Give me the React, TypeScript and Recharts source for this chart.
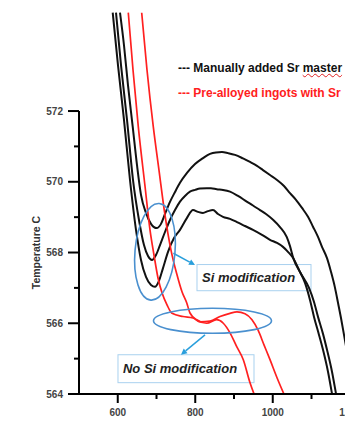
import React from 'react';
import {
  LineChart,
  Line,
  XAxis,
  YAxis,
  ReferenceLine,
  ReferenceDot,
  ReferenceArea,
  Legend,
} from 'recharts';

// ---------- data (time-like x, temperature °C) ----------
const seriesNames = ['Manually added Sr master alloy', 'Pre-alloyed ingots with Sr'];
const seriesColors = ['#111111', '#ff2020'];

const blackUpper: [number, number][] = [
  [605.8, 574.78], [616.1, 573.86], [626.4, 572.73], [638.6, 571.56], [649.7, 570.47],
  [660.0, 569.63], [672.9, 569.12], [685.8, 568.81], [700.5, 568.69], [711.6, 568.81],
  [721.9, 569.09], [734.8, 569.43], [747.7, 569.71], [760.6, 569.97], [778.7, 570.25],
  [799.4, 570.5], [820.0, 570.67], [838.1, 570.79], [853.5, 570.83], [869.0, 570.84],
  [884.5, 570.81], [902.6, 570.76], [923.2, 570.66], [941.3, 570.56], [959.3, 570.45],
  [974.8, 570.33], [992.9, 570.19], [1011.0, 570.05], [1029.0, 569.88], [1044.5, 569.68],
  [1060.0, 569.49], [1075.5, 569.26], [1091.0, 569.01], [1103.9, 568.73], [1116.8, 568.44],
  [1127.1, 568.16], [1140.0, 567.84], [1150.4, 567.45], [1160.7, 567.0], [1168.4, 566.58],
  [1176.1, 566.15], [1183.9, 565.67], [1191.6, 565.19], [1199.3, 564.63], [1207.1, 564.01],
];

const blackMiddle: [number, number][] = [
  [595.5, 574.78], [608.4, 573.3], [623.9, 571.75], [639.4, 570.05], [654.8, 568.92],
  [667.7, 568.21], [678.1, 567.9], [688.4, 567.79], [698.7, 567.93], [709.0, 568.21],
  [721.9, 568.58], [734.8, 568.92], [747.7, 569.2], [760.6, 569.44], [773.5, 569.6],
  [786.4, 569.72], [799.4, 569.77], [812.2, 569.81], [829.5, 569.82], [840.6, 569.82],
  [855.4, 569.79], [871.6, 569.77], [889.7, 569.72], [910.3, 569.6], [932.8, 569.44],
  [949.0, 569.33], [967.1, 569.2], [982.6, 569.09], [1001.4, 568.92], [1018.7, 568.72],
  [1036.0, 568.44], [1044.5, 568.18], [1053.0, 567.84], [1070.3, 567.45], [1093.6, 567.0],
  [1106.5, 566.6], [1116.8, 566.18], [1129.7, 565.7], [1140.0, 565.25], [1152.9, 564.63],
  [1163.2, 564.01], [1168.4, 563.69],
];

const blackLower: [number, number][] = [
  [587.0, 574.78], [600.6, 573.3], [616.1, 571.75], [631.6, 570.05], [647.1, 568.64],
  [660.0, 567.79], [672.9, 567.31], [685.8, 567.08], [696.1, 567.03], [706.4, 567.2],
  [716.8, 567.56], [729.7, 568.02], [745.2, 568.41], [760.6, 568.64], [778.7, 568.98],
  [794.2, 569.2], [807.1, 569.15], [820.0, 569.12], [832.9, 569.17], [845.8, 569.2],
  [858.7, 569.09], [871.6, 569.01], [889.7, 568.95], [907.7, 568.86], [928.4, 568.75],
  [949.0, 568.64], [972.2, 568.5], [992.9, 568.36], [1011.0, 568.27], [1026.4, 568.16],
  [1039.3, 568.02], [1052.2, 567.85], [1067.7, 567.51], [1083.2, 567.14], [1096.1, 566.66],
  [1106.5, 566.18], [1119.4, 565.67], [1129.7, 565.25], [1142.6, 564.63], [1152.9, 564.01],
  [1158.1, 563.69],
];

const redLeft: [number, number][] = [
  [627.2, 574.78], [639.4, 573.16], [653.0, 571.56], [670.3, 569.88], [683.2, 568.64],
  [693.5, 567.93], [703.9, 567.28], [714.2, 566.86], [727.1, 566.52], [740.0, 566.28],
  [768.4, 566.19], [794.2, 566.15], [812.2, 566.04], [838.1, 566.06], [863.9, 566.19],
  [889.7, 566.28], [907.7, 566.32], [928.4, 566.27], [946.4, 566.1], [961.9, 565.81],
  [977.4, 565.39], [992.9, 564.97], [1011.0, 564.46], [1031.6, 563.93],
];

const redRight: [number, number][] = [
  [661.8, 574.78], [675.5, 573.16], [691.7, 571.56], [706.4, 570.33], [721.9, 569.06],
  [737.4, 568.07], [752.9, 567.37], [765.8, 566.89], [777.9, 566.58], [786.4, 566.29],
  [803.7, 566.1], [829.5, 566.0], [855.4, 566.1], [872.4, 566.0], [889.7, 565.73],
  [907.0, 565.34], [924.0, 564.97], [941.3, 564.32], [954.2, 563.93],
];

const xTicks = [600, 700, 800, 900, 1000, 1100, 1200];
const xMajor = [600, 800, 1000, 1200];
const yTicks = [564, 565, 566, 567, 568, 569, 570, 571, 572];
const yMajor = [564, 566, 568, 570, 572];
const yAxisTitle = 'Temperature C';

// annotations (data coordinates)
const siEllipse = { x: 696.1, y: 568.02 };
const noSiEllipse = { x: 844.5, y: 566.07 };
const siBox = { x1: 804.5, x2: 1098.7, y1: 567.66, y2: 566.92, text: 'Si modification' };
const noSiBox = { x1: 600.6, x2: 951.6, y1: 565.11, y2: 564.32, text: 'No Si modification' };
const siArrow = [{ x: 743.4, y: 567.98 }, { x: 799.4, y: 567.65 }];
const noSiArrow = [{ x: 825.2, y: 565.67 }, { x: 763.2, y: 565.11 }];

const toPts = (arr: [number, number][]) => arr.map(([t, T]) => ({ t, T }));

const FONT = 'Arial, "Liberation Sans", sans-serif';

const XTick = (props: any) => {
  const { x, y, payload } = props;
  const major = xMajor.includes(payload.value);
  return (
    <g>
      <line x1={x} x2={x} y1={y} y2={y + (major ? 9 : 5)} stroke="#000" strokeWidth={2} />
      {major && (
        <text x={x} y={y + 22} textAnchor="middle" fontSize={10} fontWeight="bold" fill="#444" fontFamily={FONT}>
          {payload.value}
        </text>
      )}
    </g>
  );
};

const YTick = (props: any) => {
  const { x, y, payload } = props;
  const major = yMajor.includes(payload.value);
  return (
    <g>
      <line x1={x - (major ? 11 : 5)} x2={x} y1={y} y2={y} stroke="#000" strokeWidth={2} />
      {major && (
        <text x={x - 16} y={y + 3.5} textAnchor="end" fontSize={10} fontWeight="bold" fill="#444" fontFamily={FONT}>
          {payload.value}
        </text>
      )}
    </g>
  );
};

const AxisTitle = (props: any) => {
  const vb = props.viewBox || { x: 0, y: 12, width: 79, height: 382 };
  const cx = vb.x + 36.5;
  const cy = vb.y + 240.6;
  return (
    <text
      x={cx}
      y={cy}
      transform={`rotate(-90 ${cx} ${cy})`}
      textAnchor="middle"
      dominantBaseline="central"
      fontSize={10.5}
      fontWeight="bold"
      fill="#333"
      fontFamily={FONT}
    >
      {yAxisTitle}
    </text>
  );
};

const ellipseShape = (rx: number, ry: number, rot: number) => (p: any) => (
  <ellipse
    cx={p.cx}
    cy={p.cy}
    rx={rx}
    ry={ry}
    transform={`rotate(${rot} ${p.cx} ${p.cy})`}
    fill="none"
    stroke="#4a90cf"
    strokeWidth={1.6}
  />
);

const boxShape = (text: string) => (p: any) => (
  <g>
    <rect x={p.x} y={p.y} width={p.width} height={p.height} fill="none" stroke="#a9d1ef" strokeWidth={1} />
    <text
      x={p.x + 5}
      y={p.y + p.height / 2}
      dominantBaseline="central"
      fontSize={13}
      fontWeight="bold"
      fontStyle="italic"
      fill="#222"
      fontFamily={FONT}
    >
      {text}
    </text>
  </g>
);

const arrowShape = (p: any) => {
  const { x1, y1, x2, y2 } = p;
  const a = Math.atan2(y2 - y1, x2 - x1);
  const L = 6;
  const W = 3;
  const bx = x2 - L * Math.cos(a);
  const by = y2 - L * Math.sin(a);
  const pts = `${x2},${y2} ${bx + W * Math.sin(a)},${by - W * Math.cos(a)} ${bx - W * Math.sin(a)},${by + W * Math.cos(a)}`;
  return (
    <g>
      <line x1={x1} y1={y1} x2={bx} y2={by} stroke="#2a9fdc" strokeWidth={1.5} />
      <polygon points={pts} fill="#2a9fdc" />
    </g>
  );
};

const LegendContent = () => (
  <div style={{ fontFamily: FONT, fontSize: 12, fontWeight: 'bold', lineHeight: '25px', whiteSpace: 'nowrap' }}>
    <div style={{ color: seriesColors[0] }}>
      {'--- Manually added Sr '}
      <span style={{ textDecoration: 'underline wavy #e02020', textDecorationThickness: '1px' }}>master</span>
      {' alloy'}
    </div>
    <div style={{ color: seriesColors[1] }}>{'--- ' + seriesNames[1].replace('Pre-alloyed', 'Pre-alloyed')}</div>
  </div>
);

export default function App() {
  const lineSeries = [
    { key: 'b1', data: blackUpper, color: seriesColors[0], w: 2 },
    { key: 'b2', data: blackMiddle, color: seriesColors[0], w: 2 },
    { key: 'b3', data: blackLower, color: seriesColors[0], w: 2 },
    { key: 'r1', data: redLeft, color: seriesColors[1], w: 1.7 },
    { key: 'r2', data: redRight, color: seriesColors[1], w: 1.7 },
  ];
  return (
    <div
      style={{
        position: 'absolute',
        left: 0,
        top: 0,
        width: 345,
        height: 421,
        overflow: 'hidden',
        background: '#fff',
        fontFamily: FONT,
      }}
    >
      <LineChart width={400} height={421} margin={{ top: 12, right: 11, bottom: 0, left: 0 }}>
        <XAxis
          dataKey="t"
          type="number"
          domain={[500, 1300]}
          ticks={xTicks}
          interval={0}
          allowDataOverflow
          height={27}
          tickSize={0}
          tickMargin={0}
          tickLine={false}
          axisLine={{ stroke: '#000', strokeWidth: 2 }}
          tick={<XTick />}
        />
        <YAxis
          type="number"
          domain={[564, 574.8]}
          ticks={yTicks}
          interval={0}
          allowDataOverflow
          width={79}
          tickSize={0}
          tickMargin={0}
          tickLine={false}
          axisLine={false}
          tick={<YTick />}
          label={{ value: yAxisTitle, content: AxisTitle }}
        />
        <ReferenceLine
          segment={[{ x: 500, y: 564 }, { x: 500, y: 572 }]}
          stroke="#000"
          strokeWidth={2}
          ifOverflow="visible"
        />
        {lineSeries.map((s) => (
          <Line
            key={s.key}
            data={toPts(s.data)}
            dataKey="T"
            type="monotone"
            stroke={s.color}
            strokeWidth={s.w}
            dot={false}
            activeDot={false}
            isAnimationActive={false}
          />
        ))}
        <ReferenceDot x={siEllipse.x} y={siEllipse.y} r={1} shape={ellipseShape(20, 48.5, 5)} />
        <ReferenceDot x={noSiEllipse.x} y={noSiEllipse.y} r={1} shape={ellipseShape(59, 12.5, 0)} />
        <ReferenceArea x1={siBox.x1} x2={siBox.x2} y1={siBox.y1} y2={siBox.y2} shape={boxShape(siBox.text)} />
        <ReferenceArea x1={noSiBox.x1} x2={noSiBox.x2} y1={noSiBox.y1} y2={noSiBox.y2} shape={boxShape(noSiBox.text)} />
        <ReferenceLine segment={siArrow} shape={arrowShape} />
        <ReferenceLine segment={noSiArrow} shape={arrowShape} />
        <Legend
          layout="vertical"
          align="center"
          verticalAlign="middle"
          wrapperStyle={{ left: 178, top: 56, width: 400 }}
          content={<LegendContent />}
        />
      </LineChart>
    </div>
  );
}
